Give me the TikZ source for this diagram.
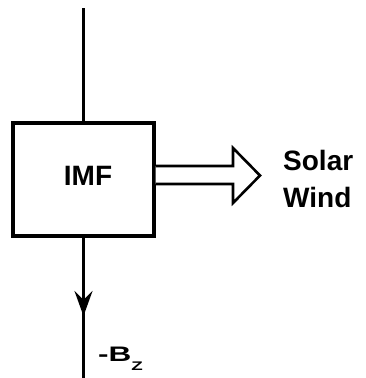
\documentclass[tikz,border=0pt]{standalone}
\usepackage{fontspec}
\usepackage{graphicx}
\setmainfont{Liberation Sans}
\usetikzlibrary{arrows.meta}
\begin{document}
\begin{tikzpicture}[x=1pt,y=-1pt,
  lbl/.style={font=\bfseries\fontsize{28}{30}\selectfont, inner sep=0pt},
  wire/.style={line width=3pt},
  boxst/.style={draw, line width=3.2pt, minimum width=141pt, minimum height=113pt, inner sep=0pt},
  hollow/.style={draw, line width=2.6pt, line join=miter, fill=white}]
\useasboundingbox (0,0) rectangle (365,378);
\node[boxst] (imf) at (83.5,179.5) {};
\node[lbl] (imft) at (88,175.5) {IMF};
\coordinate (top) at (83.5,8);
\coordinate (tip) at (83.5,316);
\coordinate (bot) at (83.5,378);
\draw[wire] (top) -- (imf.north);
\draw[wire] (imf.south) -- (bot);
\draw[wire,-{Stealth[length=25pt,width=18pt,inset=9pt]}] (imf.south) -- (tip);
\draw[hollow] (imf.east |- 0,166) -- (233,166) -- (233,148) -- (260,175.5) -- (233,203) -- (233,184) -- (imf.east |- 0,184);
\node[lbl, anchor=base west] (solar) at (283,170) {Solar};
\node[lbl, anchor=base west] (wind) at (283,207) {Wind};
\node[inner sep=0pt, anchor=base west, font=\bfseries\fontsize{21}{22}\selectfont] (bz) at (98,361)
  {\scalebox{1.5}[1]{-B\raisebox{-9pt}{\fontsize{12.5}{13}\selectfont Z}}};
\end{tikzpicture}
\end{document}
